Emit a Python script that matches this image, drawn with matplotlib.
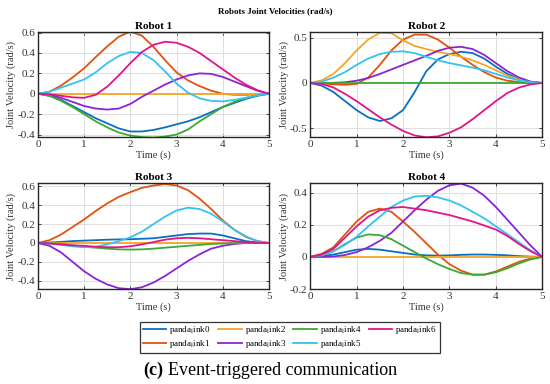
import matplotlib
matplotlib.use("Agg")
import matplotlib.pyplot as plt
import numpy as np
from matplotlib.ticker import FuncFormatter

plt.rcParams['font.family'] = ['Liberation Serif', 'DejaVu Serif']
plt.rcParams['mathtext.fontset'] = 'stix'
plt.rcParams['axes.unicode_minus'] = False

# time axis (s), sampled every 0.25 s
t = [0, 0.25, 0.5, 0.75, 1, 1.25, 1.5, 1.75, 2, 2.25, 2.5, 2.75, 3, 3.25, 3.5, 3.75, 4, 4.25, 4.5, 4.75, 5]

links = ['link0', 'link1', 'link2', 'link3', 'link4', 'link5', 'link6']
colors = ['#0a6fc2', '#e2520e', '#f5a623', '#8a24d6', '#3baa32', '#33c3f0', '#e0148c']

zeros = [0] * 21

robot1 = [
    [0, -0.02, -0.06, -0.12, -0.18, -0.24, -0.29, -0.34, -0.37, -0.37, -0.355, -0.33, -0.30, -0.27, -0.23, -0.18, -0.13, -0.09, -0.05, -0.02, 0],
    [0, 0.02, 0.08, 0.16, 0.25, 0.36, 0.465, 0.56, 0.61, 0.57, 0.46, 0.33, 0.21, 0.13, 0.075, 0.03, 0.0, -0.01, -0.01, -0.005, 0],
    zeros,
    [0, -0.01, -0.04, -0.08, -0.12, -0.145, -0.155, -0.145, -0.1, -0.03, 0.03, 0.09, 0.14, 0.18, 0.2, 0.195, 0.165, 0.12, 0.075, 0.03, 0],
    [0, -0.02, -0.07, -0.13, -0.2, -0.27, -0.33, -0.38, -0.41, -0.425, -0.43, -0.42, -0.4, -0.35, -0.27, -0.2, -0.13, -0.08, -0.04, -0.015, 0],
    [0, 0.02, 0.06, 0.1, 0.14, 0.21, 0.3, 0.37, 0.41, 0.4, 0.33, 0.22, 0.1, 0.01, -0.045, -0.07, -0.075, -0.06, -0.04, -0.015, 0],
    [0, -0.005, -0.02, -0.035, -0.04, -0.01, 0.07, 0.18, 0.3, 0.41, 0.48, 0.51, 0.5, 0.46, 0.4, 0.32, 0.24, 0.16, 0.09, 0.035, 0],
]

robot2 = [
    [0, -0.03, -0.1, -0.2, -0.3, -0.38, -0.42, -0.39, -0.3, -0.1, 0.13, 0.26, 0.32, 0.345, 0.33, 0.27, 0.18, 0.1, 0.04, 0.01, 0],
    [0, -0.005, -0.015, -0.02, -0.01, 0.06, 0.2, 0.36, 0.48, 0.535, 0.535, 0.48, 0.39, 0.29, 0.2, 0.12, 0.06, 0.025, 0.01, 0.0, 0],
    [0, 0.03, 0.1, 0.22, 0.36, 0.48, 0.555, 0.55, 0.47, 0.41, 0.375, 0.345, 0.32, 0.29, 0.25, 0.2, 0.14, 0.08, 0.04, 0.01, 0],
    [0, 0.0, 0.002, 0.008, 0.025, 0.055, 0.1, 0.15, 0.2, 0.25, 0.3, 0.355, 0.39, 0.4, 0.375, 0.31, 0.22, 0.13, 0.06, 0.015, 0],
    zeros,
    [0, 0.015, 0.06, 0.12, 0.2, 0.27, 0.32, 0.345, 0.35, 0.33, 0.29, 0.25, 0.22, 0.195, 0.17, 0.14, 0.1, 0.06, 0.03, 0.01, 0],
    [0, -0.01, -0.05, -0.12, -0.2, -0.29, -0.38, -0.46, -0.53, -0.58, -0.6, -0.59, -0.55, -0.49, -0.4, -0.3, -0.2, -0.11, -0.05, -0.015, 0],
]

robot3 = [
    [0, 0.005, 0.012, 0.02, 0.025, 0.03, 0.035, 0.038, 0.04, 0.045, 0.05, 0.065, 0.08, 0.095, 0.1, 0.1, 0.08, 0.05, 0.02, 0.005, 0],
    [0, 0.03, 0.09, 0.17, 0.25, 0.34, 0.42, 0.49, 0.54, 0.585, 0.61, 0.625, 0.61, 0.56, 0.47, 0.36, 0.24, 0.14, 0.065, 0.02, 0],
    zeros,
    [0, -0.03, -0.1, -0.2, -0.3, -0.38, -0.44, -0.48, -0.49, -0.47, -0.42, -0.35, -0.27, -0.19, -0.12, -0.06, -0.03, -0.01, 0.0, 0.0, 0],
    [0, -0.003, -0.01, -0.025, -0.04, -0.05, -0.06, -0.068, -0.07, -0.068, -0.06, -0.05, -0.04, -0.03, -0.02, -0.01, -0.005, -0.002, 0, 0, 0],
    [0, -0.005, -0.02, -0.035, -0.045, -0.04, -0.015, 0.02, 0.06, 0.12, 0.2, 0.28, 0.345, 0.375, 0.36, 0.31, 0.23, 0.14, 0.07, 0.02, 0],
    [0, -0.005, -0.015, -0.025, -0.03, -0.04, -0.045, -0.045, -0.035, -0.015, 0.01, 0.035, 0.05, 0.055, 0.05, 0.04, 0.03, 0.02, 0.01, 0.003, 0],
]

robot4 = [
    [0, 0.005, 0.015, 0.03, 0.045, 0.05, 0.045, 0.035, 0.025, 0.015, 0.01, 0.008, 0.01, 0.013, 0.015, 0.015, 0.013, 0.01, 0.005, 0.002, 0],
    [0, 0.02, 0.06, 0.14, 0.22, 0.28, 0.3, 0.28, 0.22, 0.155, 0.085, 0.015, -0.045, -0.085, -0.11, -0.11, -0.09, -0.06, -0.03, -0.01, 0],
    zeros,
    [0, 0.0, 0.003, 0.012, 0.03, 0.06, 0.1, 0.15, 0.22, 0.29, 0.355, 0.41, 0.445, 0.455, 0.43, 0.38, 0.31, 0.23, 0.15, 0.07, 0],
    [0, 0.01, 0.035, 0.08, 0.12, 0.14, 0.135, 0.11, 0.07, 0.03, -0.01, -0.045, -0.075, -0.1, -0.11, -0.11, -0.095, -0.07, -0.04, -0.015, 0],
    [0, 0.01, 0.035, 0.075, 0.125, 0.19, 0.25, 0.31, 0.35, 0.375, 0.38, 0.37, 0.35, 0.32, 0.28, 0.24, 0.19, 0.14, 0.09, 0.04, 0],
    [0, 0.015, 0.05, 0.12, 0.19, 0.25, 0.29, 0.305, 0.31, 0.3, 0.29, 0.275, 0.26, 0.24, 0.22, 0.195, 0.17, 0.13, 0.08, 0.035, 0],
]

robots = [robot1, robot2, robot3, robot4]
titles = ['Robot 1', 'Robot 2', 'Robot 3', 'Robot 4']
ylims = [(-0.425, 0.607), (-0.598, 0.565), (-0.49, 0.635), (-0.2, 0.458)]
yticks = [[-0.4, -0.2, 0, 0.2, 0.4, 0.6], [-0.5, 0, 0.5],
          [-0.4, -0.2, 0, 0.2, 0.4, 0.6], [-0.2, 0, 0.2, 0.4]]

fig = plt.figure(figsize=(5.5, 3.84), dpi=100)
positions = [[0.069, 0.643, 0.420, 0.274], [0.564, 0.643, 0.422, 0.274],
             [0.069, 0.247, 0.420, 0.276], [0.564, 0.247, 0.422, 0.276]]

fmt = FuncFormatter(lambda v, p: f"{v:g}")
handles = []
for i, data in enumerate(robots):
    ax = fig.add_axes(positions[i])
    for j, series in enumerate(data):
        h, = ax.plot(t, series, color=colors[j], lw=1.3,
                     label=r"panda$_{\rm l}$ink" + links[j][-1])
        if i == 0:
            handles.append(h)
    ax.set_xlim(0, 5)
    ax.set_ylim(*ylims[i])
    ax.set_yticks(yticks[i])
    ax.set_xticks(range(6))
    ax.yaxis.set_major_formatter(fmt)
    ax.grid(True, color='#dedede', lw=0.7)
    ax.set_axisbelow(True)
    ax.tick_params(direction='in', length=2.5, width=0.6, labelsize=8,
                   colors='#262626', labelcolor='#333333', pad=2, top=True, right=True)
    for s in ax.spines.values():
        s.set_color('#262626')
        s.set_linewidth(1.0)
    ax.set_title(titles[i], fontsize=8, fontweight='bold', pad=2)
    ax.set_xlabel('Time (s)', fontsize=7.5, labelpad=1, color='#333333')
    ax.set_ylabel('Joint Velocity (rad/s)', fontsize=7.5, labelpad=1, color='#333333')

fig.text(0.5, 0.971, 'Robots Joint Velocities (rad/s)', ha='center', va='center',
         fontsize=6.5, fontweight='bold')

fig.legend(handles=handles, loc='center', bbox_to_anchor=(0.527, 0.122), ncol=4,
           fontsize=6.5, frameon=True, fancybox=False, edgecolor='black',
           handlelength=2.6, columnspacing=0.8, handletextpad=0.35,
           labelspacing=0.15, borderpad=0.3).get_frame().set_linewidth(0.9)

fig.text(0.297, 0.036, '(c)', ha='right', va='center', fontsize=13, fontweight='bold')
fig.text(0.306, 0.036, 'Event-triggered communication', ha='left', va='center', fontsize=13)

fig.savefig('out.png', dpi=100)
